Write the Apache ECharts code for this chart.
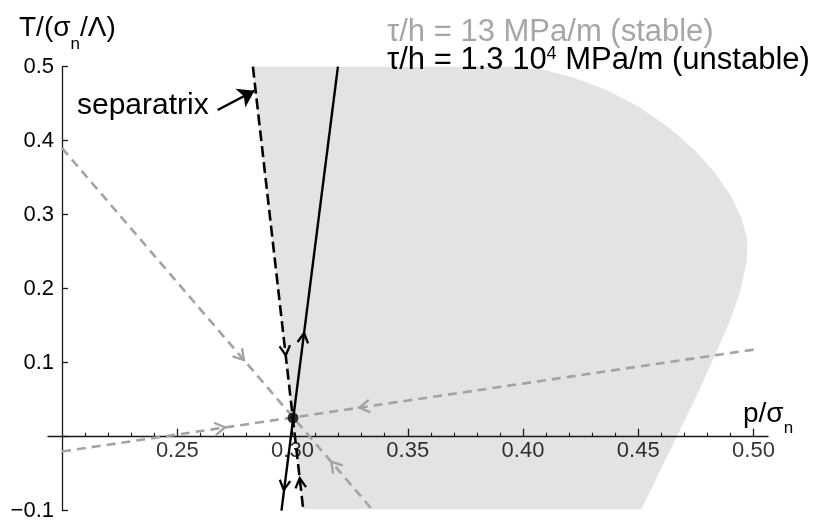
<!DOCTYPE html>
<html><head><meta charset="utf-8">
<script src="https://cdn.jsdelivr.net/npm/echarts@6/dist/echarts.min.js"></script>
<style>html,body{margin:0;padding:0;background:#fff}#c{width:814px;height:520px}</style>
</head><body><div id="c"></div>
<script>
// ---- data ----
const xMajorTicks = [0.25, 0.30, 0.35, 0.40, 0.45, 0.50];
const xTickLabels = ['0.25', '0.30', '0.35', '0.40', '0.45', '0.50'];
const xMinorTicks = [0.21,0.22,0.23,0.24,0.26,0.27,0.28,0.29,0.31,0.32,0.33,0.34,0.36,0.37,0.38,0.39,0.41,0.42,0.43,0.44,0.46,0.47,0.48,0.49];
const yTickValues = [-0.1, 0.1, 0.2, 0.3, 0.4, 0.5];
const yTickLabels = ['\u22120.1', '0.1', '0.2', '0.3', '0.4', '0.5'];

// shaded (stable) region boundary
const shadeX = [0.2826, 0.3963, 0.4093, 0.4223, 0.4362, 0.4505, 0.4635, 0.4744, 0.4830, 0.4900, 0.4948, 0.4974, 0.4970, 0.4944, 0.4900, 0.4839, 0.4765, 0.4514, 0.3045];
const shadeY = [0.5, 0.5, 0.4955, 0.4847, 0.4685, 0.4455, 0.4172, 0.3874, 0.3577, 0.3266, 0.2955, 0.2658, 0.2361, 0.1982, 0.1577, 0.1145, 0.0631, -0.0981, -0.0981];

// unstable case (black)
const unstableX = [0.2952, 0.3197];
const unstableY = [-0.1, 0.5];
const separatrixX = [0.2828, 0.3047];
const separatrixY = [0.5, -0.1];
// stable case (gray)
const steepX = [0.2, 0.335];
const steepY = [0.39, -0.1];
const shallowX = [0.2, 0.5007];
const shallowY = [-0.02, 0.118];

const fixedPoint = [0.3002, 0.0253];

// arrow heads: [x, y, dirX, dirY]
const blackArrows = [
  [0.3050, 0.140, 0.0245, 0.6],
  [0.2962, -0.072, -0.0245, -0.6],
  [0.2971, 0.110, 0.0219, -0.6],
  [0.3031, -0.056, -0.0219, 0.6]
];
const grayArrows = [
  [0.2789, 0.1036, 0.135, -0.49],
  [0.3168, -0.0338, -0.135, 0.49],
  [0.2707, 0.0125, 0.3007, 0.138],
  [0.3290, 0.0392, -0.3007, -0.138]
];
// "separatrix" annotation arrow: tail -> head
const annotArrow = [[0.2675, 0.4415], [0.2835, 0.4676]];

// ---- chart ----
const AX = '#1a1a1a';
const GRAY = '#a3a3a3';
const FONT = 'Liberation Sans, Arial, Helvetica, sans-serif';
const chart = echarts.init(document.getElementById('c'), null, {renderer: 'canvas'});

function pairs(xs, ys) { return xs.map((x, i) => [x, ys[i]]); }

function chevron(color, width, len, half) {
  return function (params, api) {
    const x = api.value(0), y = api.value(1), dx = api.value(2), dy = api.value(3);
    const p = api.coord([x, y]);
    const q = api.coord([x + dx * 0.01, y + dy * 0.01]);
    const ang = Math.atan2(q[1] - p[1], q[0] - p[0]);
    const a1 = ang + Math.PI - half, a2 = ang + Math.PI + half;
    return {
      type: 'polyline',
      shape: {points: [[p[0] + len * Math.cos(a1), p[1] + len * Math.sin(a1)], p, [p[0] + len * Math.cos(a2), p[1] + len * Math.sin(a2)]]},
      style: {stroke: color, lineWidth: width, fill: null, lineJoin: 'miter'}
    };
  };
}

const textBase = {fontFamily: FONT, fontWeight: 'normal'};

chart.setOption({
  animation: false,
  backgroundColor: '#fff',
  title: [
    {left: 14, top: 6, text: '{a|T/(σ}{s|n}{a|/Λ)}',
     textStyle: {rich: {
       a: Object.assign({fontSize: 28, color: '#000', lineHeight: 34}, textBase),
       s: Object.assign({fontSize: 17, color: '#000', lineHeight: 34, verticalAlign: 'bottom', padding: [0, 0, -8, 0]}, textBase)
     }}},
    {left: 738, top: 392, text: '{a|p/σ}{s|n}',
     textStyle: {rich: {
       a: Object.assign({fontSize: 28, color: '#000', lineHeight: 34}, textBase),
       s: Object.assign({fontSize: 17, color: '#000', lineHeight: 34, verticalAlign: 'bottom', padding: [0, 0, -6, 0]}, textBase)
     }}},
    {left: 382, top: 12, text: 'τ/h = 13 MPa/m (stable)',
     textStyle: Object.assign({fontSize: 31, color: '#a6a6a6', lineHeight: 31}, textBase)},
    {left: 382, top: 40, text: '{a|τ/h = 1.3 10}{p|4}{a| MPa/m (unstable)}',
     textStyle: {rich: {
       a: Object.assign({fontSize: 31, color: '#000', lineHeight: 31}, textBase),
       p: Object.assign({fontSize: 18, color: '#000', lineHeight: 31, verticalAlign: 'top'}, textBase)
     }}}
  ],
  graphic: [
    {type: 'text', left: 77, top: 91, z: 10,
     style: {text: 'separatrix', fontSize: 30, fontFamily: FONT, fill: '#000'}}
  ],
  grid: {left: 48, right: 46, top: 66.7, bottom: 9.3, containLabel: false, outerBoundsMode: 'none'},
  xAxis: [
    {type: 'value', min: 0.1939, max: 0.5063, z: 3,
     axisLine: {show: true, onZero: true, onZeroAxisIndex: 0, lineStyle: {color: AX, width: 1.3}},
     axisTick: {show: true, inside: true, length: 8, customValues: xMajorTicks, lineStyle: {color: AX, width: 1.3}},
     axisLabel: {show: false},
     splitLine: {show: false}},
    {type: 'value', min: 0.1939, max: 0.5063, position: 'bottom', z: 3,
     axisLine: {show: false, onZero: true, onZeroAxisIndex: 1},
     axisTick: {show: true, inside: true, length: 4, customValues: xMinorTicks, lineStyle: {color: AX, width: 1.1}},
     axisLabel: {show: false},
     splitLine: {show: false}}
  ],
  yAxis: [
    {type: 'value', min: -0.1, max: 0.5, offset: -14, z: 3,
     axisLine: {show: true, onZero: false, lineStyle: {color: AX, width: 1.3}},
     axisTick: {show: true, inside: true, length: 6, customValues: [-0.1, 0, 0.1, 0.2, 0.3, 0.4, 0.5], lineStyle: {color: AX, width: 1.3}},
     minorTick: {show: false},
     axisLabel: {show: true, customValues: yTickValues, margin: 8, fontSize: 22, color: '#000', fontFamily: FONT,
       formatter: v => { const i = yTickValues.findIndex(t => Math.abs(t - v) < 1e-6); return i >= 0 ? yTickLabels[i] : ''; }},
     splitLine: {show: false}},
    {type: 'value', min: -0.1, max: 0.5, show: false}
  ],
  series: [
    {type: 'custom', name: 'stable region', z: 1, silent: true, clip: false,
     encode: {x: 0, y: 1},
     data: pairs(shadeX, shadeY),
     renderItem: (params, api) => {
       if (params.dataIndex !== 0) return null;
       const pts = shadeX.map((x, i) => api.coord([x, shadeY[i]]));
       return {type: 'polygon', shape: {points: pts}, style: {fill: '#e3e3e3', stroke: null}};
     }},
    {type: 'line', name: 'steep', data: pairs(steepX, steepY), symbol: 'none', z: 4,
     lineStyle: {color: GRAY, width: 2.6, type: [9, 6]}},
    {type: 'line', name: 'shallow', data: pairs(shallowX, shallowY), symbol: 'none', z: 4,
     lineStyle: {color: GRAY, width: 2.6, type: [9, 6]}},
    {type: 'line', name: 'separatrix', data: pairs(separatrixX, separatrixY), symbol: 'none', z: 5,
     lineStyle: {color: '#000', width: 2.6, type: [11, 5]}},
    {type: 'line', name: 'unstable', data: pairs(unstableX, unstableY), symbol: 'none', z: 5,
     lineStyle: {color: '#000', width: 2.4}},
    {type: 'custom', name: 'gray arrows', z: 6, encode: {x: 0, y: 1}, data: grayArrows,
     renderItem: chevron(GRAY, 2.4, 12, 0.55)},
    {type: 'custom', name: 'black arrows', z: 7, encode: {x: 0, y: 1}, data: blackArrows,
     renderItem: chevron('#000', 2.3, 11, 0.5)},
    {type: 'scatter', name: 'fixed point', data: [fixedPoint], symbol: 'circle', symbolSize: 11, z: 8,
     itemStyle: {color: '#000'}},
    {type: 'scatter', name: 'x tick labels', z: 9, silent: true, symbolSize: 0,
     data: xMajorTicks.map((v, i) => ({name: xTickLabels[i], value: [v, 0]})),
     label: {show: true, position: 'bottom', distance: 3, formatter: '{b}', fontSize: 22, color: '#000', fontFamily: FONT}},
    {type: 'lines', coordinateSystem: 'cartesian2d', z: 8, symbol: ['none', 'arrow'], symbolSize: 16,
     lineStyle: {color: '#000', width: 2.4, opacity: 1},
     data: [{coords: annotArrow}]}
  ]
});
</script></body></html>
